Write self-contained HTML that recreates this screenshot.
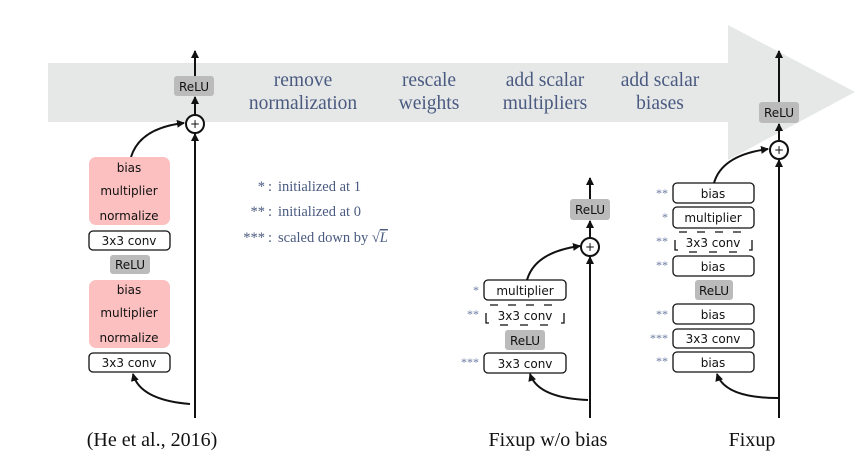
<!DOCTYPE html>
<html><head><meta charset="utf-8"><style>
html,body{margin:0;padding:0;background:#fff;}
svg{display:block;}
.lbl{font-family:"Liberation Serif",serif;font-size:19.5px;fill:#4a5a80;}
.cap{font-family:"Liberation Serif",serif;font-size:20px;fill:#111;}
.leg{font-family:"Liberation Serif",serif;font-size:14.5px;fill:#4a5a80;}
.bx{font-family:"DejaVu Sans","Liberation Sans",sans-serif;font-size:12px;fill:#111;}
.st{font-family:"Liberation Serif",serif;font-size:12px;fill:#6a7aa0;}
</style></head><body>
<svg width="868" height="475" viewBox="0 0 868 475">
<defs>
<marker id="ah" markerWidth="8" markerHeight="8" refX="7" refY="4" orient="auto" markerUnits="userSpaceOnUse">
<path d="M0,0 L8,4 L0,8 Z" fill="#111"/></marker>
</defs>
<path d="M48,63 L728,63 L728,25 L855,92 L728,160 L728,122 L48,122 Z" fill="#e6e8e8"/>
<g>
<text class="lbl" x="303" y="86" text-anchor="middle">remove</text>
<text class="lbl" x="303" y="109" text-anchor="middle">normalization</text>
<text class="lbl" x="429" y="86" text-anchor="middle">rescale</text>
<text class="lbl" x="429" y="109" text-anchor="middle">weights</text>
<text class="lbl" x="545" y="86" text-anchor="middle">add scalar</text>
<text class="lbl" x="545" y="109" text-anchor="middle">multipliers</text>
<text class="lbl" x="660" y="86" text-anchor="middle">add scalar</text>
<text class="lbl" x="660" y="109" text-anchor="middle">biases</text>
</g>
<g>
<text class="leg" x="265" y="191" text-anchor="end">*</text>
<text class="leg" x="268" y="191">:</text>
<text class="leg" x="278" y="191">initialized at 1</text>
<text class="leg" x="265" y="216" text-anchor="end">**</text>
<text class="leg" x="268" y="216">:</text>
<text class="leg" x="278" y="216">initialized at 0</text>
<text class="leg" x="265" y="242" text-anchor="end">***</text>
<text class="leg" x="268" y="242">:</text>
<text class="leg" x="278" y="242">scaled down by √<tspan text-decoration="overline" font-style="italic">L</tspan></text>
</g>

<!-- Left block -->
<g stroke="#111" stroke-width="2" fill="none">
<line x1="195" y1="418" x2="195" y2="134" marker-end="url(#ah)"/>
<line x1="195" y1="114" x2="195" y2="97" marker-end="url(#ah)"/>
<line x1="195" y1="76" x2="195" y2="51" marker-end="url(#ah)"/>
<circle cx="195" cy="124" r="9" fill="#fff"/>
<path d="M190,404 Q140,400 133,374" marker-end="url(#ah)"/>
<path d="M131,157 Q140,128 184,123" marker-end="url(#ah)"/>
</g>
<text class="bx" x="195" y="128" text-anchor="middle" font-size="13">+</text>
<rect x="174" y="76" width="40" height="20" rx="3" fill="#bbb"/>
<text class="bx" x="194" y="91" text-anchor="middle">ReLU</text>
<rect x="89" y="157" width="81" height="68" rx="7" fill="#fcc0c0"/>
<text class="bx" x="129" y="172" text-anchor="middle">bias</text>
<text class="bx" x="129" y="195" text-anchor="middle">multiplier</text>
<text class="bx" x="129" y="220" text-anchor="middle">normalize</text>
<rect x="89" y="231" width="81" height="19" rx="4" fill="#fff" stroke="#111" stroke-width="1.3"/>
<text class="bx" x="129" y="245" text-anchor="middle">3x3 conv</text>
<rect x="110" y="255" width="40" height="19" rx="3" fill="#bbb"/>
<text class="bx" x="130" y="269" text-anchor="middle">ReLU</text>
<rect x="89" y="280" width="81" height="68" rx="7" fill="#fcc0c0"/>
<text class="bx" x="129" y="294" text-anchor="middle">bias</text>
<text class="bx" x="129" y="317" text-anchor="middle">multiplier</text>
<text class="bx" x="129" y="342" text-anchor="middle">normalize</text>
<rect x="89" y="353" width="81" height="19" rx="4" fill="#fff" stroke="#111" stroke-width="1.3"/>
<text class="bx" x="129" y="367" text-anchor="middle">3x3 conv</text>
<text class="cap" x="152" y="446" text-anchor="middle">(He et al., 2016)</text>

<!-- Middle block -->
<g stroke="#111" stroke-width="2" fill="none">
<line x1="590" y1="418" x2="590" y2="257" marker-end="url(#ah)"/>
<line x1="590" y1="237" x2="590" y2="221" marker-end="url(#ah)"/>
<line x1="590" y1="199" x2="590" y2="178" marker-end="url(#ah)"/>
<circle cx="590" cy="247" r="9" fill="#fff"/>
<path d="M588,400 Q538,398 530,374" marker-end="url(#ah)"/>
<path d="M527,280 Q535,252 580,246" marker-end="url(#ah)"/>
</g>
<text class="bx" x="590" y="251" text-anchor="middle" font-size="13">+</text>
<rect x="570" y="199" width="40" height="21" rx="3" fill="#bbb"/>
<text class="bx" x="590" y="214" text-anchor="middle">ReLU</text>
<text class="st" x="479" y="294" text-anchor="end">*</text>
<rect x="484" y="280" width="82" height="20" rx="4" fill="#fff" stroke="#111" stroke-width="1.3"/>
<text class="bx" x="525" y="295" text-anchor="middle">multiplier</text>
<text class="st" x="479" y="318" text-anchor="end">**</text>
<g stroke="#111" stroke-width="1.3" fill="none">
<line x1="490" y1="305" x2="562" y2="305" stroke-dasharray="8,10"/>
<path d="M486,313 L486,323 L489,323"/>
<path d="M564,313 L564,323 L561,323"/>
<line x1="500" y1="325" x2="555" y2="325" stroke-dasharray="8,12"/>
</g>
<text class="bx" x="525" y="320" text-anchor="middle">3x3 conv</text>
<rect x="505" y="330" width="40" height="20" rx="3" fill="#bbb"/>
<text class="bx" x="525" y="345" text-anchor="middle">ReLU</text>
<text class="st" x="479" y="366" text-anchor="end">***</text>
<rect x="484" y="353" width="82" height="20" rx="4" fill="#fff" stroke="#111" stroke-width="1.3"/>
<text class="bx" x="525" y="368" text-anchor="middle">3x3 conv</text>
<text class="cap" x="548" y="446" text-anchor="middle">Fixup w/o bias</text>

<!-- Right block -->
<g stroke="#111" stroke-width="2" fill="none">
<line x1="779" y1="418" x2="779" y2="160" marker-end="url(#ah)"/>
<line x1="779" y1="140" x2="779" y2="124" marker-end="url(#ah)"/>
<line x1="779" y1="102" x2="779" y2="51" marker-end="url(#ah)"/>
<circle cx="779" cy="150" r="9" fill="#fff"/>
<path d="M778,398 Q725,398 717,374" marker-end="url(#ah)"/>
<path d="M714,183 Q722,155 768,149" marker-end="url(#ah)"/>
</g>
<text class="bx" x="779" y="154" text-anchor="middle" font-size="13">+</text>
<rect x="759" y="102" width="40" height="21" rx="3" fill="#bbb"/>
<text class="bx" x="779" y="117" text-anchor="middle">ReLU</text>
<g>
<text class="st" x="668" y="197" text-anchor="end">**</text>
<rect x="673" y="183" width="81" height="20" rx="4" fill="#fff" stroke="#111" stroke-width="1.3"/>
<text class="bx" x="713" y="198" text-anchor="middle">bias</text>
<text class="st" x="668" y="221" text-anchor="end">*</text>
<rect x="673" y="207" width="81" height="21" rx="4" fill="#fff" stroke="#111" stroke-width="1.3"/>
<text class="bx" x="713" y="222" text-anchor="middle">multiplier</text>
<text class="st" x="668" y="245" text-anchor="end">**</text>
<g stroke="#111" stroke-width="1.3" fill="none">
<line x1="679" y1="232" x2="750" y2="232" stroke-dasharray="8,10"/>
<path d="M675,240 L675,250 L678,250"/>
<path d="M752,240 L752,250 L749,250"/>
<line x1="689" y1="252" x2="744" y2="252" stroke-dasharray="8,12"/>
</g>
<text class="bx" x="713" y="247" text-anchor="middle">3x3 conv</text>
<text class="st" x="668" y="269" text-anchor="end">**</text>
<rect x="673" y="256" width="81" height="20" rx="4" fill="#fff" stroke="#111" stroke-width="1.3"/>
<text class="bx" x="713" y="271" text-anchor="middle">bias</text>
<rect x="695" y="280" width="38" height="20" rx="3" fill="#bbb"/>
<text class="bx" x="714" y="295" text-anchor="middle">ReLU</text>
<text class="st" x="668" y="318" text-anchor="end">**</text>
<rect x="673" y="304" width="81" height="20" rx="4" fill="#fff" stroke="#111" stroke-width="1.3"/>
<text class="bx" x="713" y="319" text-anchor="middle">bias</text>
<text class="st" x="668" y="342" text-anchor="end">***</text>
<rect x="673" y="329" width="81" height="19" rx="4" fill="#fff" stroke="#111" stroke-width="1.3"/>
<text class="bx" x="713" y="343" text-anchor="middle">3x3 conv</text>
<text class="st" x="668" y="365" text-anchor="end">**</text>
<rect x="673" y="352" width="81" height="20" rx="4" fill="#fff" stroke="#111" stroke-width="1.3"/>
<text class="bx" x="713" y="367" text-anchor="middle">bias</text>
</g>
<text class="cap" x="752" y="446" text-anchor="middle">Fixup</text>
</svg>
</body></html>
